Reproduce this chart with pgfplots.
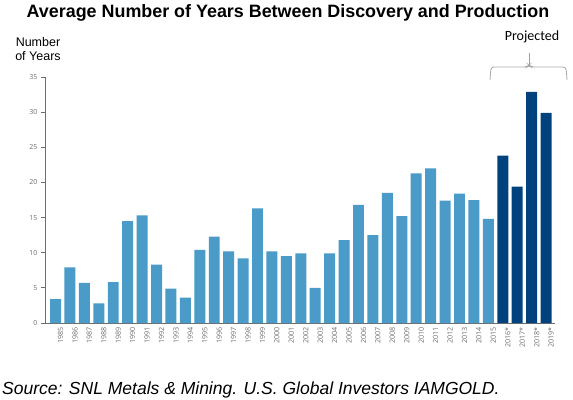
\documentclass[border=0pt]{standalone}
\usepackage{pgfplots}
\pgfplotsset{compat=1.18}
\usepackage{fontspec}
\setmainfont{Liberation Sans}
\newfontfamily\carlito{Carlito}
\newfontfamily\opensans{Open Sans}
\definecolor{lightbar}{RGB}{74,155,199}
\definecolor{darkbar}{RGB}{0,66,126}
\definecolor{axgray}{RGB}{110,110,110}
\definecolor{bracegray}{RGB}{170,170,170}
\begin{document}
\begin{tikzpicture}[x=1pt,y=1pt]
\path[use as bounding box] (0,0) rectangle (573,399);
\begin{axis}[
  at={(45pt,76pt)}, anchor=south west,
  scale only axis, width=510pt, height=246pt,
  xmin=1984.27, xmax=2019.62, ymin=0, ymax=35,
  axis lines*=left,
  axis line style={axgray, line width=1pt},
  ytick={0,5,...,35},
  yticklabel style={font=\opensans\fontsize{7}{7}\selectfont, text=axgray},
  /pgf/number format/assume math mode=true,
  y tick style={axgray, line width=0.8pt},
  tick align=outside, major tick length=4pt,
  xtick={1985,...,2019},
  xticklabels={1985,1986,1987,1988,1989,1990,1991,1992,1993,1994,1995,1996,1997,1998,1999,2000,2001,2002,2003,2004,2005,2006,2007,2008,2009,2010,2011,2012,2013,2014,2015,2016*,2017*,2018*,2019*},
  x tick style={draw=none},
  xticklabel style={rotate=90, anchor=east, font=\opensans\fontsize{7.2}{7.2}\selectfont, text=axgray, inner sep=0pt, yshift=-5pt},
  ybar, bar width=0.76, bar shift=0pt,
  clip=false,
]
\addplot[fill=lightbar, draw=none] coordinates {
(1985,3.4) (1986,7.9) (1987,5.7) (1988,2.8) (1989,5.8) (1990,14.5) (1991,15.3)
(1992,8.3) (1993,4.9) (1994,3.6) (1995,10.4) (1996,12.3) (1997,10.2) (1998,9.2)
(1999,16.3) (2000,10.2) (2001,9.5) (2002,9.9) (2003,5.0) (2004,9.9) (2005,11.8)
(2006,16.8) (2007,12.5) (2008,18.5) (2009,15.2) (2010,21.3) (2011,22.0) (2012,17.4)
(2013,18.4) (2014,17.5) (2015,14.8)
};
\addplot[fill=darkbar, draw=none] coordinates {
(2016,23.8) (2017,19.4) (2018,32.9) (2019,29.9)
};
\end{axis}
% title and annotations
\node[font=\bfseries\fontsize{17.9}{17.9}\selectfont, anchor=base] at (288,381) {Average Number of Years Between Discovery and Production};
\node[font=\fontsize{12.5}{14}\selectfont, align=center, anchor=center] at (38,350) {Number\\of Years};
\node[font=\carlito\fontsize{14}{14}\selectfont, anchor=center] at (532,362) {Projected};
\draw[bracegray, line width=0.8pt, rounded corners=3pt] (490,319) -- (491,332) -- (527,332) -- (529,334) -- (531,332) -- (566,332) -- (567,319);
\draw[bracegray!70!lightbar, line width=0.8pt] (529,334) -- (529,346);
\node[font=\itshape\fontsize{17.5}{17.5}\selectfont, anchor=base west, inner sep=0pt] at (2,5) {Source: SNL Metals \& Mining. U.S. Global Investors IAMGOLD.};
\end{tikzpicture}
\end{document}
